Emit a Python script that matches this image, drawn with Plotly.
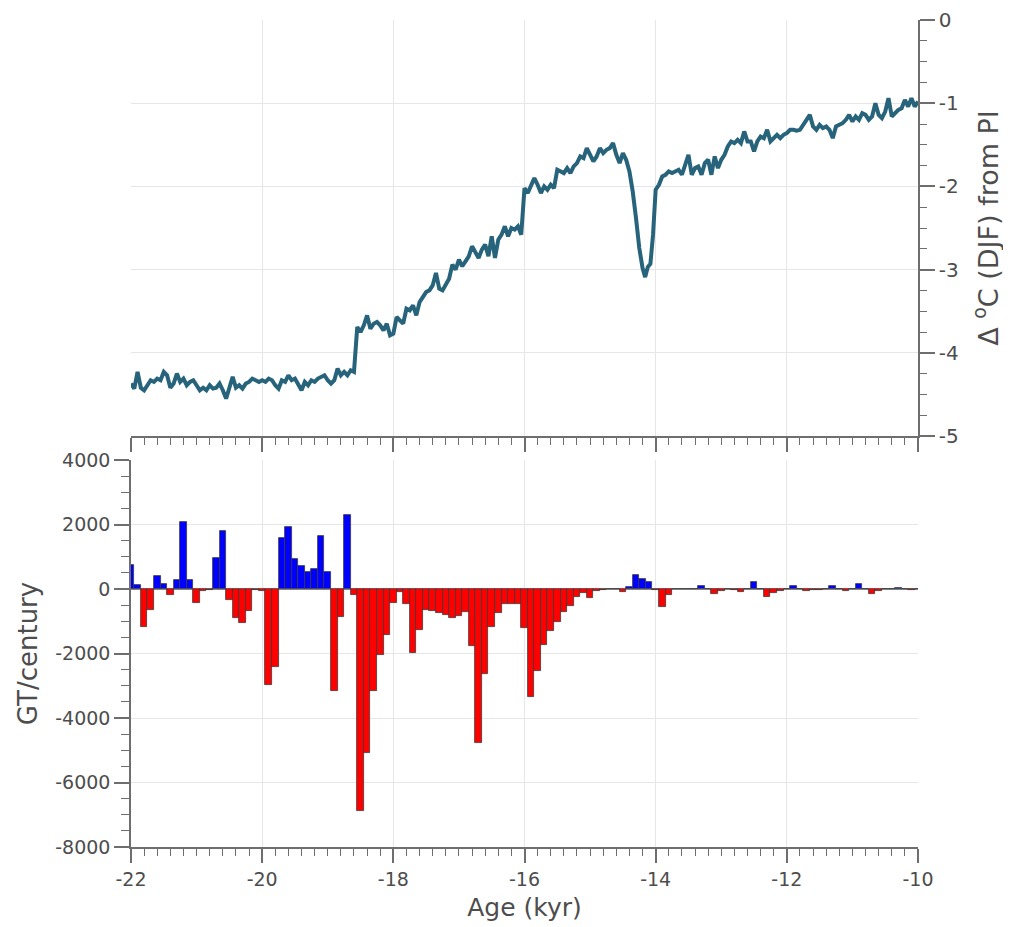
import plotly.graph_objects as go

# ---------------- data ----------------
# Temperature anomaly (DJF) relative to PI
temp_age = [
    -22.00, -21.95, -21.90, -21.85, -21.80, -21.75, -21.70, -21.65, -21.60, -21.55,
    -21.50, -21.45, -21.40, -21.35, -21.30, -21.25, -21.20, -21.15, -21.10, -21.05,
    -21.00, -20.95, -20.90, -20.85, -20.80, -20.75, -20.70, -20.65, -20.60, -20.55,
    -20.50, -20.45, -20.40, -20.35, -20.30, -20.25, -20.20, -20.15, -20.10, -20.05,
    -20.00, -19.95, -19.90, -19.85, -19.80, -19.75, -19.70, -19.65, -19.60, -19.55,
    -19.50, -19.45, -19.40, -19.35, -19.30, -19.25, -19.20, -19.15, -19.10, -19.05,
    -19.00, -18.95, -18.90, -18.85, -18.80, -18.75, -18.70, -18.65, -18.60, -18.58,
    -18.55, -18.50, -18.45, -18.40, -18.35, -18.30, -18.25, -18.20, -18.15, -18.10,
    -18.05, -18.00, -17.95, -17.90, -17.85, -17.80, -17.75, -17.70, -17.65, -17.60,
    -17.55, -17.50, -17.45, -17.40, -17.35, -17.30, -17.25, -17.20, -17.15, -17.10,
    -17.05, -17.00, -16.95, -16.90, -16.85, -16.80, -16.75, -16.70, -16.65, -16.60,
    -16.55, -16.50, -16.45, -16.40, -16.35, -16.30, -16.25, -16.20, -16.15, -16.10,
    -16.05, -16.02, -16.00, -15.95, -15.90, -15.85, -15.80, -15.75, -15.70, -15.65,
    -15.60, -15.55, -15.50, -15.45, -15.40, -15.35, -15.30, -15.25, -15.20, -15.15,
    -15.10, -15.05, -15.00, -14.95, -14.90, -14.85, -14.80, -14.75, -14.70, -14.65,
    -14.60, -14.55, -14.50, -14.45, -14.40, -14.35, -14.30, -14.25, -14.20, -14.16,
    -14.12, -14.08, -14.04, -14.00, -13.95, -13.90, -13.85, -13.80, -13.75, -13.70,
    -13.65, -13.60, -13.55, -13.50, -13.45, -13.40, -13.35, -13.30, -13.25, -13.20,
    -13.15, -13.10, -13.05, -13.00, -12.95, -12.90, -12.85, -12.80, -12.75, -12.70,
    -12.65, -12.60, -12.55, -12.50, -12.45, -12.40, -12.35, -12.30, -12.25, -12.20,
    -12.15, -12.10, -12.05, -12.00, -11.95, -11.90, -11.85, -11.80, -11.75, -11.70,
    -11.65, -11.60, -11.55, -11.50, -11.45, -11.40, -11.35, -11.30, -11.25, -11.20,
    -11.15, -11.10, -11.05, -11.00, -10.95, -10.90, -10.85, -10.80, -10.75, -10.70,
    -10.65, -10.60, -10.55, -10.50, -10.45, -10.40, -10.35, -10.30, -10.25, -10.20,
    -10.15, -10.10, -10.05, -10.00,
]
temp_anom = [
    -4.37, -4.43, -4.23, -4.42, -4.45, -4.39, -4.33, -4.35, -4.31, -4.33,
    -4.23, -4.27, -4.42, -4.37, -4.25, -4.35, -4.31, -4.39, -4.35, -4.33,
    -4.39, -4.45, -4.42, -4.45, -4.39, -4.43, -4.42, -4.37, -4.45, -4.55,
    -4.42, -4.29, -4.42, -4.39, -4.43, -4.37, -4.35, -4.31, -4.33, -4.35,
    -4.33, -4.35, -4.31, -4.33, -4.39, -4.43, -4.33, -4.35, -4.27, -4.33,
    -4.31, -4.39, -4.45, -4.35, -4.39, -4.33, -4.35, -4.31, -4.29, -4.27,
    -4.33, -4.37, -4.33, -4.19, -4.27, -4.23, -4.27, -4.21, -4.23, -3.97,
    -3.69, -3.75, -3.67, -3.55, -3.71, -3.65, -3.63, -3.67, -3.73, -3.65,
    -3.79, -3.77, -3.57, -3.61, -3.65, -3.47, -3.49, -3.43, -3.55, -3.39,
    -3.33, -3.27, -3.25, -3.19, -3.04, -3.23, -3.25, -3.19, -3.11, -2.94,
    -3.00, -2.88, -2.96, -2.90, -2.84, -2.72, -2.80, -2.86, -2.76, -2.70,
    -2.84, -2.60, -2.86, -2.64, -2.58, -2.48, -2.60, -2.50, -2.52, -2.48,
    -2.58, -2.18, -2.02, -2.08, -1.98, -1.90, -1.98, -2.08, -2.00, -2.04,
    -1.98, -2.02, -1.80, -1.82, -1.84, -1.78, -1.84, -1.76, -1.72, -1.64,
    -1.66, -1.54, -1.62, -1.70, -1.64, -1.54, -1.60, -1.56, -1.54, -1.48,
    -1.62, -1.72, -1.60, -1.68, -1.82, -2.06, -2.38, -2.74, -2.98, -3.09,
    -2.97, -2.93, -2.58, -2.04, -1.98, -1.88, -1.86, -1.82, -1.84, -1.82,
    -1.80, -1.86, -1.72, -1.62, -1.86, -1.78, -1.76, -1.86, -1.72, -1.68,
    -1.86, -1.64, -1.78, -1.68, -1.62, -1.52, -1.46, -1.48, -1.44, -1.48,
    -1.34, -1.46, -1.46, -1.58, -1.46, -1.40, -1.42, -1.32, -1.46, -1.42,
    -1.38, -1.42, -1.38, -1.36, -1.32, -1.32, -1.33, -1.32, -1.26, -1.18,
    -1.14, -1.28, -1.32, -1.26, -1.30, -1.28, -1.32, -1.42, -1.28, -1.26,
    -1.24, -1.20, -1.14, -1.22, -1.16, -1.20, -1.12, -1.14, -1.20, -1.16,
    -1.00, -1.14, -1.18, -1.10, -0.94, -1.16, -1.12, -1.08, -1.06, -0.96,
    -1.04, -0.94, -1.04, -0.98,
]

# Ice mass change per 0.1 kyr bin (GT/century), bins centred at -22.0 ... -10.0
bar_age = [round(-22.0 + 0.1 * i, 1) for i in range(121)]
bar_value = [
    734, 114, -1171, -642, 403, 155, -186, 289, 2078, 289,
    -435, -73, -25, 951, 1798, -342, -912, -1067, -684, -40,
    -62, -2984, -2414, 1581, 1922, 930, 713, 517, 630, 1643,
    517, -3171, -860, 2284, -197, -6870, -5078, -3171, -2031, -1430,
    -435, -83, -477, -1979, -1264, -642, -694, -756, -798, -891,
    -829, -715, -1782, -4788, -2642, -1171, -736, -477, -477, -477,
    -1212, -3337, -2539, -1751, -1306, -1016, -705, -528, -238, -135,
    -280, -62, -45, -10, -10, -80, 50, 444, 320, 217,
    -30, -548, -186, -10, -10, -15, 5, 93, -5, -145,
    -62, -5, -20, -93, 0, 207, -5, -238, -114, -52,
    -10, 103, -10, -72, -41, -30, -10, 103, -5, -62,
    -5, 144, -5, -145, -52, -10, -5, 20, -5, -41,
    -5,
]

x_ticks = [-22, -20, -18, -16, -14, -12, -10]
temp_ticks = [0, -1, -2, -3, -4, -5]
mass_ticks = [4000, 2000, 0, -2000, -4000, -6000, -8000]

# ---------------- figure ----------------
# the page body has an 8 px margin, so the figure is sized to fit inside it
OFF = 8
W, H = 1011 - OFF, 927 - OFF
x0, x1 = (131 - OFF) / W, (918 - OFF) / W
top_dom = [1 - (436 - OFF) / H, 1 - (20 - OFF) / H]
bot_dom = [1 - (847 - OFF) / H, 1 - (460 - OFF) / H]

font_family = "DejaVu Sans"
txt_col = "#4d4d4d"
axis_col = "#6e6e6e"
grid_col = "#e6e6e6"

bar_colors = ["#0000ff" if v > 0 else "#ff0000" for v in bar_value]

fig = go.Figure()
fig.add_trace(go.Scatter(
    x=temp_age, y=temp_anom, mode="lines",
    line=dict(color="#27647b", width=4),
    xaxis="x", yaxis="y", showlegend=False,
))
fig.add_trace(go.Bar(
    x=bar_age, y=bar_value, width=0.1,
    marker=dict(color=bar_colors, line=dict(color="#3a3a3a", width=0.8)),
    xaxis="x2", yaxis="y2", showlegend=False,
))

common_x = dict(
    range=[-22, -10], showline=True, linecolor=axis_col, linewidth=1.5,
    ticks="outside", ticklen=14, tickwidth=1.5, tickcolor=axis_col,
    tickvals=x_ticks, showgrid=True, gridcolor=grid_col, gridwidth=1,
    zeroline=False, automargin=False,
    minor=dict(dtick=0.2, ticks="outside", ticklen=7, tickwidth=1.2,
               tickcolor=axis_col, showgrid=False),
)

fig.update_layout(
    width=W, height=H,
    margin=dict(l=0, r=0, t=0, b=0, autoexpand=False),
    paper_bgcolor="white", plot_bgcolor="white",
    font=dict(family=font_family, size=19, color=txt_col),
    bargap=0,
    xaxis=dict(domain=[x0, x1], anchor="y", showticklabels=False, **common_x),
    yaxis=dict(
        domain=top_dom, anchor="x", side="right", range=[-5, 0],
        tickvals=temp_ticks, ticktext=[str(v) for v in temp_ticks],
        tickfont=dict(size=20),
        showline=True, linecolor=axis_col, linewidth=1.5,
        ticks="outside", ticklen=15, tickwidth=1.5, tickcolor=axis_col,
        showgrid=True, gridcolor=grid_col, zeroline=False, automargin=False,
        minor=dict(dtick=0.25, ticks="outside", ticklen=7, tickwidth=1.2,
                   tickcolor=axis_col, showgrid=False),
        title=dict(text="Δ <sup>o</sup>C (DJF) from PI",
                   font=dict(size=27, color=txt_col), standoff=21),
    ),
    xaxis2=dict(
        domain=[x0, x1], anchor="y2",
        ticktext=[str(v) for v in x_ticks],
        title=dict(text="Age (kyr)", font=dict(size=25, color=txt_col), standoff=10),
        **common_x,
    ),
    yaxis2=dict(
        domain=bot_dom, anchor="x2", range=[-8000, 4000],
        tickvals=mass_ticks, ticktext=[str(v) for v in mass_ticks],
        showline=True, linecolor=axis_col, linewidth=1.5,
        ticks="outside", ticklen=15, tickwidth=1.5, tickcolor=axis_col,
        showgrid=True, gridcolor=grid_col, automargin=False,
        zeroline=True, zerolinecolor="#8a8a8a", zerolinewidth=1,
        minor=dict(dtick=500, ticks="outside", ticklen=8, tickwidth=1.2,
                   tickcolor=axis_col, showgrid=False),
        title=dict(text="GT/century", font=dict(size=26, color=txt_col), standoff=10),
    ),
)

fig.write_html("out.html")
